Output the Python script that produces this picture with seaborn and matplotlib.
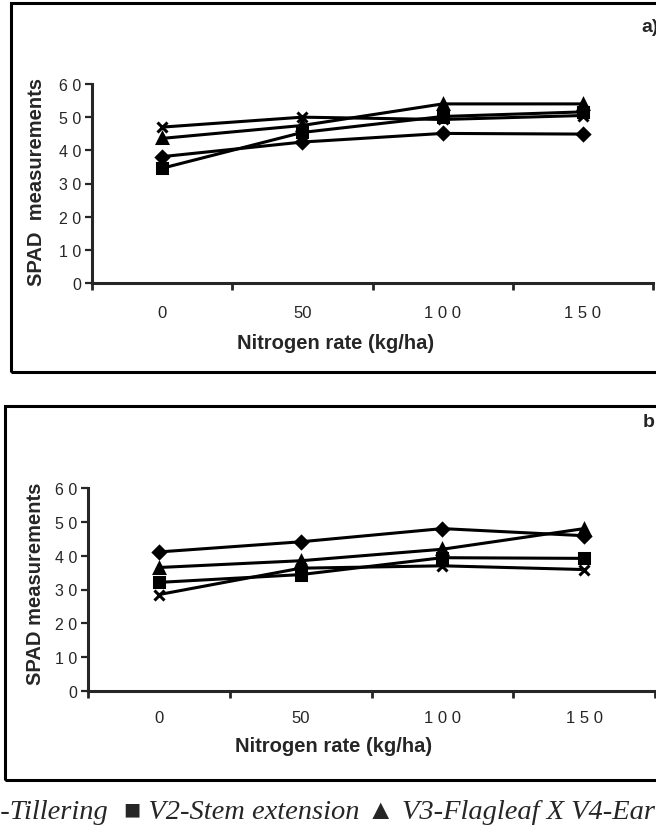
import seaborn as sns
import matplotlib.pyplot as plt
import pandas as pd
from matplotlib.patches import Rectangle

# data
rates = ["0", "50", "100", "150"]
rate_labels = ["0", "50", "1 0 0", "1 5 0"]
stages = ["V1-Tillering", "V2-Stem extension", "V3-Flagleaf", "V4-Earing"]
markers = ["D", "s", "^", "x"]

a_v1 = [38.1, 42.5, 45.1, 44.9]
a_v2 = [34.6, 45.4, 50.2, 51.6]
a_v3 = [43.6, 47.5, 54.0, 54.0]
a_v4 = [47.0, 50.0, 49.3, 50.5]

b_v1 = [41.1, 44.1, 48.0, 45.9]
b_v2 = [32.1, 34.4, 39.4, 39.2]
b_v3 = [36.5, 38.5, 41.9, 48.0]
b_v4 = [28.5, 36.3, 37.0, 35.9]

yticks = [0, 10, 20, 30, 40, 50, 60]
ytick_labels = ["0", "1 0", "2 0", "3 0", "4 0", "5 0", "6 0"]

W, H = 656, 837


def fx(px):
    return px / W


def fy(py):
    return 1 - py / H


def long_df(series):
    rows = []
    for stage, vals in zip(stages, series):
        for r, v in zip(rates, vals):
            rows.append({"rate": r, "spad": v, "stage": stage})
    return pd.DataFrame(rows)


sns.set_style("ticks")
plt.rcParams["font.family"] = ["Liberation Sans", "DejaVu Sans"]

fig = plt.figure(figsize=(W / 100, H / 100), dpi=100)

# panel frames
fig.add_artist(Rectangle((fx(11), fy(373)), fx(720), (373 - 4) / H,
                         transform=fig.transFigure, fill=False, lw=2.2, ec="black"))
fig.add_artist(Rectangle((fx(5), fy(781)), fx(720), (781 - 407) / H,
                         transform=fig.transFigure, fill=False, lw=2.2, ec="black"))

panels = [
    # data, left, right, top, bottom, ylabel, ylabel pos, xlabel pos, tag, tick pad
    ([a_v1, a_v2, a_v3, a_v4], 92, 653, 85, 284, "SPAD  measurements", (36, 182), (336, 344), ("a)", 641, 28), 16),
    ([b_v1, b_v2, b_v3, b_v4], 88, 655, 489, 692, "SPAD measurements", (36, 584), (334, 747), ("b", 643, 423), 14),
]

for series, l, r, t, b, ylab, ylpos, xlpos, tag, tpad in panels:
    ax = fig.add_axes([fx(l), fy(b), (r - l) / W, (b - t) / H])
    df = long_df(series)
    sns.pointplot(data=df, x="rate", y="spad", hue="stage", order=rates,
                  hue_order=stages, markers=markers, linestyles="-",
                  palette=["black"] * 4, errorbar=None, legend=False,
                  markersize=6.5, linewidth=2.2, markeredgewidth=2.2, ax=ax)
    ax.set_xlim(-0.5, 3.5)
    ax.set_ylim(0, 60)
    ax.set_yticks(yticks)
    ax.set_yticklabels(ytick_labels, fontsize=11.5)
    ax.set_xticks([-0.5, 0.5, 1.5, 2.5, 3.5])
    ax.set_xticklabels([])
    ax.set_xticks([0, 1, 2, 3], minor=True)
    ax.set_xticklabels(rate_labels, minor=True, fontsize=12)
    ax.tick_params(axis="x", which="major", direction="out", length=5, width=2)
    ax.tick_params(axis="x", which="minor", length=0, pad=tpad)
    ax.tick_params(axis="y", direction="out", length=5, width=1.6, pad=3)
    for s in ["top", "right"]:
        ax.spines[s].set_visible(False)
    for s in ["left", "bottom"]:
        ax.spines[s].set_linewidth(2.2)

    ax.set_ylabel(ylab, fontsize=14.5, fontweight="bold")
    ax.yaxis.label.set_va("center")
    ax.yaxis.set_label_coords((ylpos[0] - l) / (r - l), (b - ylpos[1]) / (b - t))
    ax.set_xlabel("Nitrogen rate (kg/ha)", fontsize=14.5, fontweight="bold")
    ax.xaxis.label.set_va("center")
    ax.xaxis.set_label_coords((xlpos[0] - l) / (r - l), (b - xlpos[1]) / (b - t))

    fig.text(fx(tag[1]), fy(tag[2]), tag[0], fontsize=14, fontweight="bold",
             ha="left", va="center")

# legend line under the panels
leg_font = dict(fontsize=20.5, style="italic", family=["Liberation Serif", "DejaVu Serif"])
fig.text(fx(108), fy(819), "\u2666 V1-Tillering", ha="right", va="baseline", **leg_font)
fig.text(fx(124), fy(819), "\u25a0 V2-Stem extension \u25b2 V3-Flagleaf X V4-Earing",
         ha="left", va="baseline", **leg_font)

fig.savefig("out.png", dpi=100)
